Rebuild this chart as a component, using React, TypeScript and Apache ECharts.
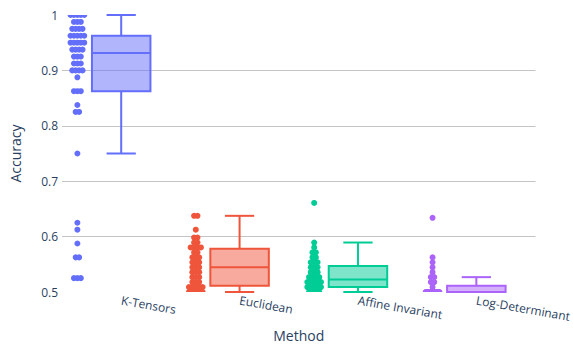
import React, { useEffect, useRef } from "react";
import * as echarts from "echarts";

// Methods on the x axis and their trace colours
const methods = ["K-Tensors", "Euclidean", "Affine Invariant", "Log-Determinant"];
const colors = ["#636efa", "#EF553B", "#00cc96", "#ab63fa"];
const fills = ["rgba(99,110,250,0.5)", "rgba(239,85,59,0.5)", "rgba(0,204,150,0.5)", "rgba(171,99,250,0.5)"];

// Accuracy of every run, per method
const kTensorsAcc = [
  1, 1, 1, 1, 1,
  0.9875, 0.9875, 0.9875,
  0.975, 0.975, 0.975, 0.975,
  0.9625, 0.9625, 0.9625, 0.9625, 0.9625,
  0.95, 0.95, 0.95, 0.95, 0.95,
  0.9375, 0.9375, 0.9375, 0.9375,
  0.925, 0.925, 0.925,
  0.9125, 0.9125, 0.9125,
  0.9, 0.9, 0.9, 0.9,
  0.8875,
  0.8625, 0.8625, 0.8625,
  0.8375,
  0.825, 0.825,
  0.75,
  0.625,
  0.6125,
  0.5875,
  0.5625, 0.5625,
  0.525, 0.525, 0.525,
];

const euclideanAcc = [
  0.6375, 0.6375,
  0.6125,
  0.5982, 0.5982,
  0.5893, 0.5893,
  0.5804, 0.5804, 0.5804, 0.5804,
  0.5714, 0.5714,
  0.5625, 0.5625, 0.5625,
  0.5536, 0.5536, 0.5536,
  0.5446, 0.5446, 0.5446,
  0.5357, 0.5357, 0.5357,
  0.5268, 0.5268, 0.5268,
  0.5179, 0.5179, 0.5179,
  0.5089, 0.5089, 0.5089, 0.5089, 0.5089, 0.5089,
  0.5, 0.5, 0.5, 0.5, 0.5,
];

const affineAcc = [
  0.6607,
  0.5893,
  0.5804,
  0.5714, 0.5714,
  0.5625, 0.5625,
  0.5536, 0.5536, 0.5536,
  0.5446, 0.5446, 0.5446,
  0.5357, 0.5357, 0.5357,
  0.5268, 0.5268, 0.5268, 0.5268,
  0.5179, 0.5179, 0.5179, 0.5179, 0.5179, 0.5179, 0.5179, 0.5179, 0.5179,
  0.5089, 0.5089, 0.5089, 0.5089, 0.5089, 0.5089, 0.5089,
  0.5, 0.5, 0.5, 0.5,
];

const logDetAcc = [
  0.6339,
  0.5625,
  0.5536,
  0.5446,
  0.5357,
  0.5268, 0.5268,
  0.5179, 0.5179,
  0.5089,
  0.5, 0.5, 0.5, 0.5, 0.5, 0.5, 0.5, 0.5, 0.5, 0.5,
  0.5, 0.5, 0.5, 0.5, 0.5, 0.5, 0.5, 0.5, 0.5, 0.5,
  0.5, 0.5, 0.5, 0.5, 0.5, 0.5,
];

const samples = [kTensorsAcc, euclideanAcc, affineAcc, logDetAcc];

// Y axis range and tick step
const yMin = 0.5;
const yMax = 1;
const yStep = 0.1;

const FONT = '"Open Sans", verdana, arial, sans-serif';
const TEXT = "#2a3f5f";

function quantile(sorted: number[], q: number) {
  const pos = (sorted.length - 1) * q;
  const lo = Math.floor(pos);
  const hi = Math.ceil(pos);
  return sorted[lo] + (sorted[hi] - sorted[lo]) * (pos - lo);
}

// Tukey box statistics: [lowWhisker, q1, median, q3, highWhisker]
function boxStats(values: number[]) {
  const s = [...values].sort((a, b) => a - b);
  const q1 = quantile(s, 0.25);
  const med = quantile(s, 0.5);
  const q3 = quantile(s, 0.75);
  const iqr = q3 - q1;
  const lo = s.find((v) => v >= q1 - 1.5 * iqr) as number;
  const hi = [...s].reverse().find((v) => v <= q3 + 1.5 * iqr) as number;
  return [lo, q1, med, q3, hi];
}

// Spread runs sharing the same value side by side, in [-1, 1]
function jittered(values: number[], cat: number) {
  const groups = new Map<number, number>();
  values.forEach((v) => groups.set(v, (groups.get(v) || 0) + 1));
  const seen = new Map<number, number>();
  return values.map((v) => {
    const c = groups.get(v) as number;
    const i = seen.get(v) || 0;
    seen.set(v, i + 1);
    const width = Math.min(1, (c - 1) / 4);
    const off = c === 1 ? 0 : (i / (c - 1) - 0.5) * 2 * width;
    return [cat, v, off];
  });
}

const POINT_OFFSET = -0.37; // points column, in band widths from the category centre
const POINT_SPREAD = 0.058;
const BOX_HALF = 0.247;

export default function App() {
  const ref = useRef<HTMLDivElement>(null);

  useEffect(() => {
    if (!ref.current) return;
    const chart = echarts.init(ref.current, undefined, { renderer: "svg" });

    const series: any[] = [];
    samples.forEach((vals, cat) => {
      const color = colors[cat];
      series.push({
        type: "custom",
        name: methods[cat],
        clip: true,
        encode: { x: 0, y: 1 },
        data: jittered(vals, cat),
        renderItem: (_params: any, api: any) => {
          const p = api.coord([api.value(0), api.value(1)]);
          const band = api.size([1, 0])[0];
          return {
            type: "circle",
            shape: {
              cx: p[0] + (POINT_OFFSET + api.value(2) * POINT_SPREAD) * band,
              cy: p[1],
              r: 3,
            },
            style: { fill: color },
          };
        },
      });
      series.push({
        type: "custom",
        name: methods[cat],
        encode: { x: 0, y: [1, 2, 3, 4, 5] },
        data: [[cat, ...boxStats(vals)]],
        renderItem: (_params: any, api: any) => {
          const x = api.value(0);
          const band = api.size([1, 0])[0];
          const cx = api.coord([x, api.value(3)])[0];
          const y = (i: number) => api.coord([x, api.value(i)])[1];
          const yLo = y(1), yQ1 = y(2), yMed = y(3), yQ3 = y(4), yHi = y(5);
          const h = BOX_HALF * band;
          const stroke = { stroke: color, lineWidth: 2, fill: "none" };
          return {
            type: "group",
            children: [
              {
                type: "rect",
                shape: { x: cx - h, y: yQ3, width: 2 * h, height: yQ1 - yQ3 },
                style: { fill: fills[cat], stroke: color, lineWidth: 2 },
              },
              { type: "line", shape: { x1: cx - h, y1: yMed, x2: cx + h, y2: yMed }, style: stroke },
              { type: "line", shape: { x1: cx, y1: yQ3, x2: cx, y2: yHi }, style: stroke },
              { type: "line", shape: { x1: cx, y1: yQ1, x2: cx, y2: yLo }, style: stroke },
              { type: "line", shape: { x1: cx - h / 2, y1: yHi, x2: cx + h / 2, y2: yHi }, style: stroke },
              { type: "line", shape: { x1: cx - h / 2, y1: yLo, x2: cx + h / 2, y2: yLo }, style: stroke },
            ],
          };
        },
      });
    });

    chart.setOption({
      animation: false,
      backgroundColor: "#ffffff",
      textStyle: { fontFamily: FONT },
      grid: { left: 61, right: 31, top: 15, bottom: 49 },
      xAxis: {
        type: "category",
        data: methods,
        boundaryGap: true,
        name: "Method",
        nameLocation: "middle",
        nameGap: 36,
        nameTextStyle: { color: TEXT, fontSize: 14, fontFamily: FONT },
        axisLine: { show: false },
        axisTick: { show: false },
        splitLine: { show: false },
        axisLabel: {
          interval: 0,
          rotate: -10,
          margin: 8,
          color: TEXT,
          fontSize: 12,
          fontFamily: FONT,
        },
      },
      yAxis: {
        type: "value",
        min: yMin,
        max: yMax,
        interval: yStep,
        name: "Accuracy",
        nameLocation: "middle",
        nameRotate: 90,
        nameGap: 40,
        nameTextStyle: { color: TEXT, fontSize: 14, fontFamily: FONT },
        axisLine: { show: false },
        axisTick: { show: false },
        axisLabel: { color: TEXT, fontSize: 12, fontFamily: FONT, margin: 4 },
        splitLine: {
          show: true,
          showMinLine: false,
          showMaxLine: false,
          lineStyle: { color: "#c4c4c4", width: 1 },
        },
      },
      series,
    });

    return () => chart.dispose();
  }, []);

  return (
    <div
      ref={ref}
      style={{ position: "fixed", left: 0, top: 0, width: 573, height: 347, overflow: "hidden" }}
    />
  );
}
